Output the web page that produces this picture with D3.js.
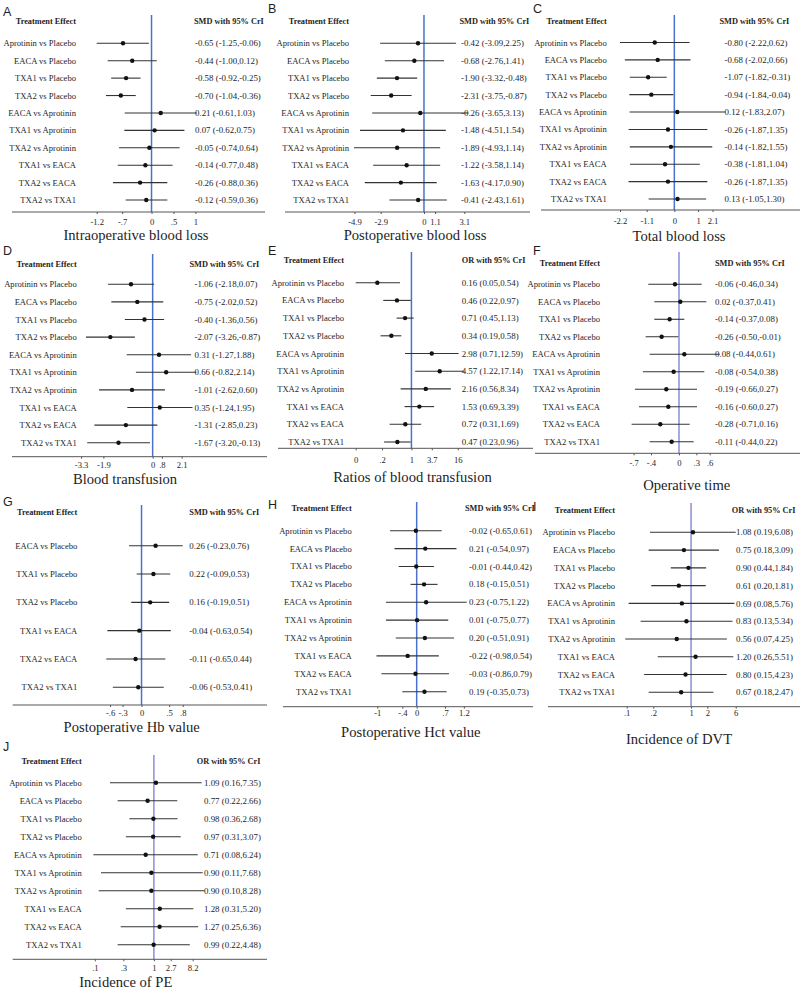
<!DOCTYPE html>
<html><head><meta charset="utf-8">
<script src="https://cdn.jsdelivr.net/npm/d3@7"></script>
<style>
body{margin:0;background:#fff}
svg{display:block}
text{font-family:"Liberation Serif","Times New Roman","DejaVu Serif",serif;fill:#1e1e1e}
</style>
</head><body><svg id="chart" width="800" height="995"></svg>
<script>
// ---------------- DATA ----------------
const comparisons = ["Aprotinin vs Placebo","EACA vs Placebo","TXA1 vs Placebo","TXA2 vs Placebo","EACA vs Aprotinin","TXA1 vs Aprotinin","TXA2 vs Aprotinin","TXA1 vs EACA","TXA2 vs EACA","TXA2 vs TXA1"];
const hbComparisons = ["EACA vs Placebo","TXA1 vs Placebo","TXA2 vs Placebo","TXA1 vs EACA","TXA2 vs EACA","TXA2 vs TXA1"];

// each row: [estimate, lower CrI, upper CrI]
const intraopBloodLoss = [[-0.65,-1.25,-0.06],[-0.44,-1.00,0.12],[-0.58,-0.92,-0.25],[-0.70,-1.04,-0.36],[0.21,-0.61,1.03],[0.07,-0.62,0.75],[-0.05,-0.74,0.64],[-0.14,-0.77,0.48],[-0.26,-0.88,0.36],[-0.12,-0.59,0.36]];
const postopBloodLoss = [[-0.42,-3.09,2.25],[-0.68,-2.76,1.41],[-1.90,-3.32,-0.48],[-2.31,-3.75,-0.87],[-0.26,-3.65,3.13],[-1.48,-4.51,1.54],[-1.89,-4.93,1.14],[-1.22,-3.58,1.14],[-1.63,-4.17,0.90],[-0.41,-2.43,1.61]];
const totalBloodLoss = [[-0.80,-2.22,0.62],[-0.68,-2.02,0.66],[-1.07,-1.82,-0.31],[-0.94,-1.84,-0.04],[0.12,-1.83,2.07],[-0.26,-1.87,1.35],[-0.14,-1.82,1.55],[-0.38,-1.81,1.04],[-0.26,-1.87,1.35],[0.13,-1.05,1.30]];
const bloodTransfusion = [[-1.06,-2.18,0.07],[-0.75,-2.02,0.52],[-0.40,-1.36,0.56],[-2.07,-3.26,-0.87],[0.31,-1.27,1.88],[0.66,-0.82,2.14],[-1.01,-2.62,0.60],[0.35,-1.24,1.95],[-1.31,-2.85,0.23],[-1.67,-3.20,-0.13]];
const transfusionRatio = [[0.16,0.05,0.54],[0.46,0.22,0.97],[0.71,0.45,1.13],[0.34,0.19,0.58],[2.98,0.71,12.59],[4.57,1.22,17.14],[2.16,0.56,8.34],[1.53,0.69,3.39],[0.72,0.31,1.69],[0.47,0.23,0.96]];
const operativeTime = [[-0.06,-0.46,0.34],[0.02,-0.37,0.41],[-0.14,-0.37,0.08],[-0.26,-0.50,-0.01],[0.08,-0.44,0.61],[-0.08,-0.54,0.38],[-0.19,-0.66,0.27],[-0.16,-0.60,0.27],[-0.28,-0.71,0.16],[-0.11,-0.44,0.22]];
const postopHb = [[0.26,-0.23,0.76],[0.22,-0.09,0.53],[0.16,-0.19,0.51],[-0.04,-0.63,0.54],[-0.11,-0.65,0.44],[-0.06,-0.53,0.41]];
const postopHct = [[-0.02,-0.65,0.61],[0.21,-0.54,0.97],[-0.01,-0.44,0.42],[0.18,-0.15,0.51],[0.23,-0.75,1.22],[0.01,-0.75,0.77],[0.20,-0.51,0.91],[-0.22,-0.98,0.54],[-0.03,-0.86,0.79],[0.19,-0.35,0.73]];
const dvtIncidence = [[1.08,0.19,6.08],[0.75,0.18,3.09],[0.90,0.44,1.84],[0.61,0.20,1.81],[0.69,0.08,5.76],[0.83,0.13,5.34],[0.56,0.07,4.25],[1.20,0.26,5.51],[0.80,0.15,4.23],[0.67,0.18,2.47]];
const peIncidence = [[1.09,0.16,7.35],[0.77,0.22,2.66],[0.98,0.36,2.68],[0.97,0.31,3.07],[0.71,0.08,6.24],[0.90,0.11,7.68],[0.90,0.10,8.28],[1.28,0.31,5.20],[1.27,0.25,6.36],[0.99,0.22,4.48]];

// tick positions (data units) and their printed labels
const intraopTicks = [-1.25,-0.67,0,0.5,1.0];      const intraopTickLabels = ["-1.2","-.7","0",".5","1"];
const postopTicks = [-4.9,-3.05,0,0.78,2.84];      const postopTickLabels = ["-4.9","-2.9","0","1.1","3.1"];
const totalTicks = [-2.22,-1.13,0,0.97,1.56];      const totalTickLabels = ["-2.2","-1.1","0","1","2.1"];
const transfusionTicks = [-3.5,-2.41,0,0.45,1.42]; const transfusionTickLabels = ["-3.3","-1.9","0",".8","2.1"];
const ratioTicks = [0.05,0.205,1,2.98,12.1];       const ratioTickLabels = ["0",".2","1","3.7","16"];
const opTimeTicks = [-0.68,-0.42,0,0.26,0.46];     const opTimeTickLabels = ["-.7","-.4","0",".3",".6"];
const hbTicks = [-0.58,-0.35,0,0.51,0.76];         const hbTickLabels = ["-.6","-.3","0",".5",".8"];
const hctTicks = [-0.96,-0.35,0,0.69,1.15];        const hctTickLabels = ["-1","-.4","0",".7","1.2"];
const dvtTicks = [0.074,0.217,1,1.93,6.08];        const dvtTickLabels = [".1",".2","1","2","6"];
const peTicks = [0.085,0.28,1,2.02,5.05];          const peTickLabels = [".1",".3","1","2.7","8.2"];

const panelLetters = ["A","B","C","D","E","F","G","H","I","J"];
const panelTitles = ["Intraoperative blood loss","Postoperative blood loss","Total blood loss","Blood transfusion","Ratios of blood transfusion","Operative time","Postoperative Hb value","Postoperative Hct value","Incidence of DVT","Incidence of PE"];
const measures = ["SMD","SMD","SMD","SMD","OR","SMD","SMD","SMD","OR","OR"];

// ---------------- LAYOUT ----------------
const BLUE = "#4a72cc", LAV = "#8a8ed8";
const SERIF = "'Liberation Serif','Times New Roman','DejaVu Serif',serif";
const SANS = "'Liberation Sans',Arial,sans-serif";
const layout = [
 {letter:[3,16],  headY:20.7, labelRight:76,   valueLeft:195,   headLeft:194,   rx:[96.7,196.7],  rowY:[43.3,200],   axisY:212,   axisX:[12,265],  tickY:221.7, title:[136,240],   lineTop:15,  color:BLUE},
 {letter:[268,13],headY:20.7, labelRight:349,  valueLeft:461,   headLeft:459.5, rx:[354,468.4],   rowY:[43.3,200],   axisY:212,   axisX:[285,530], tickY:221.7, title:[415,240],   lineTop:15,  color:BLUE},
 {letter:[533,13],headY:20.7, labelRight:606.7,valueLeft:724.5, headLeft:719.5, rx:[620,725],     rowY:[42.5,199],   axisY:210,   axisX:[541,800], tickY:221,   title:[679,241],   lineTop:15,  color:BLUE},
 {letter:[3,255], headY:264,  labelRight:76.7, valueLeft:194.5, headLeft:189.5, rx:[86,196.4],    rowY:[284.3,442.7],axisY:456.7, axisX:[12,267],  tickY:465,   title:[125,484],   lineTop:254, color:BLUE},
 {letter:[268,255],headY:260.5,labelRight:344, valueLeft:461.7, headLeft:461.7, rx:[355.7,464.3], rowY:[282.7,442],  axisY:448.3, axisX:[278,533], tickY:460,   title:[412.5,482], lineTop:252, color:BLUE},
 {letter:[533,255],headY:263, labelRight:600,  valueLeft:715,   headLeft:715,   rx:[631.6,719.7], rowY:[284.3,441.7],axisY:453.3, axisX:[535,800], tickY:463.3, title:[686.7,490], lineTop:252, color:LAV},
 {letter:[3,506], headY:511.7,labelRight:77.3, valueLeft:189.3, headLeft:189.3, rx:[106.3,182.7], rowY:[545.7,687.3],axisY:705,   axisX:[12.7,267],tickY:713.3, title:[131.7,732], lineTop:505, color:BLUE},
 {letter:[268,509],headY:508.5,labelRight:351.7,valueLeft:469,  headLeft:465,   rx:[376.5,466.7], rowY:[530.7,691.7],axisY:706.7, axisX:[283,533], tickY:713.3, title:[410.8,737], lineTop:502, color:BLUE},
 {letter:[533,511],headY:510, labelRight:615,  valueLeft:736,   headLeft:731.7, rx:[625.3,735.7], rowY:[532.3,692.3],axisY:706.7, axisX:[548,800], tickY:713.3, title:[679,744],   lineTop:503, color:LAV},
 {letter:[3,751], headY:761,  labelRight:81.7, valueLeft:204,   headLeft:196.7, rx:[93.4,204.5],  rowY:[782.7,944.7],axisY:959.3, axisX:[12.7,267],tickY:968.3, title:[125.8,987], lineTop:755, color:LAV}
];

const panelData = [intraopBloodLoss, postopBloodLoss, totalBloodLoss, bloodTransfusion, transfusionRatio, operativeTime, postopHb, postopHct, dvtIncidence, peIncidence];
const panelRows = [comparisons, comparisons, comparisons, comparisons, comparisons, comparisons, hbComparisons, comparisons, comparisons, comparisons];
const panelTicks = [intraopTicks, postopTicks, totalTicks, transfusionTicks, ratioTicks, opTimeTicks, hbTicks, hctTicks, dvtTicks, peTicks];
const panelTickLabels = [intraopTickLabels, postopTickLabels, totalTickLabels, transfusionTickLabels, ratioTickLabels, opTimeTickLabels, hbTickLabels, hctTickLabels, dvtTickLabels, peTickLabels];

// ---------------- DRAW ----------------
const svg = d3.select("#chart");
const fmt = v => v.toFixed(2);   // plain hyphen-minus as in the original
const LABEL_FS = 8.6, VALUE_FS = 8.9, HEAD_FS = 8.3, TICK_FS = 8.6, TITLE_FS = 14.6;

panelData.forEach((data, p) => {
  const L = layout[p];
  const rows = panelRows[p];
  const isOR = measures[p] === "OR";
  const g = svg.append("g");

  const lo = d3.min(data, d => d[1]), hi = d3.max(data, d => d[2]);
  const x = (isOR ? d3.scaleLog() : d3.scaleLinear()).domain([lo, hi]).range(L.rx);
  const y = d3.scalePoint().domain(rows).range(L.rowY);
  const nullValue = isOR ? 1 : 0;

  // panel letter
  g.append("text").attr("x", L.letter[0]).attr("y", L.letter[1])
    .style("font-family", SANS).style("font-size", "12.5px")
    .text(panelLetters[p]);

  // headers
  g.append("text").attr("x", L.labelRight).attr("y", L.headY).attr("dy", "0.35em")
    .attr("text-anchor", "end").style("font-family", SERIF).style("font-weight", "bold").style("font-size", HEAD_FS + "px")
    .text("Treatment Effect");
  g.append("text").attr("x", L.headLeft).attr("y", L.headY).attr("dy", "0.35em")
    .style("font-family", SERIF).style("font-weight", "bold").style("font-size", HEAD_FS + "px")
    .text(measures[p] + " with 95% CrI");

  // null line
  g.append("line").attr("x1", x(nullValue)).attr("x2", x(nullValue))
    .attr("y1", L.lineTop).attr("y2", L.axisY)
    .attr("stroke", L.color).attr("stroke-width", 1.5);

  // axis
  g.append("line").attr("x1", L.axisX[0]).attr("x2", L.axisX[1])
    .attr("y1", L.axisY).attr("y2", L.axisY)
    .attr("stroke", "#555").attr("stroke-width", 1);
  const labels = panelTickLabels[p];
  const axis = d3.axisBottom(x).tickValues(panelTicks[p])
    .tickFormat((d, i) => labels[i]).tickSizeInner(2).tickSizeOuter(0)
    .tickPadding(L.tickY - L.axisY - 3 - 2);
  const ag = g.append("g").attr("transform", `translate(0,${L.axisY})`).call(axis);
  ag.select(".domain").remove();
  ag.selectAll(".tick line").attr("stroke", "#555");
  ag.selectAll(".tick text").attr("fill", "#1e1e1e")
    .style("font-family", SERIF).style("font-size", TICK_FS + "px");

  // rows
  const rg = g.selectAll(".row").data(data).join("g");
  rg.append("text").attr("x", L.labelRight).attr("y", (d, i) => y(rows[i])).attr("dy", "0.35em")
    .attr("text-anchor", "end").style("font-family", SERIF).style("font-size", LABEL_FS + "px").text((d, i) => rows[i]);
  rg.append("line").attr("x1", d => x(d[1])).attr("x2", d => x(d[2]))
    .attr("y1", (d, i) => y(rows[i])).attr("y2", (d, i) => y(rows[i]))
    .attr("stroke", "#333").attr("stroke-width", 1.1);
  rg.append("circle").attr("cx", d => x(d[0])).attr("cy", (d, i) => y(rows[i])).attr("r", 2.2).attr("fill", "#111");
  rg.append("text").attr("x", L.valueLeft).attr("y", (d, i) => y(rows[i])).attr("dy", "0.35em")
    .style("font-family", SERIF).style("font-size", VALUE_FS + "px").text(d => `${fmt(d[0])} (${fmt(d[1])},${fmt(d[2])})`);

  // title
  g.append("text").attr("x", L.title[0]).attr("y", L.title[1]).attr("text-anchor", "middle")
    .style("font-family", SERIF).style("font-size", TITLE_FS + "px").text(panelTitles[p]);
});
</script>
</body></html>
